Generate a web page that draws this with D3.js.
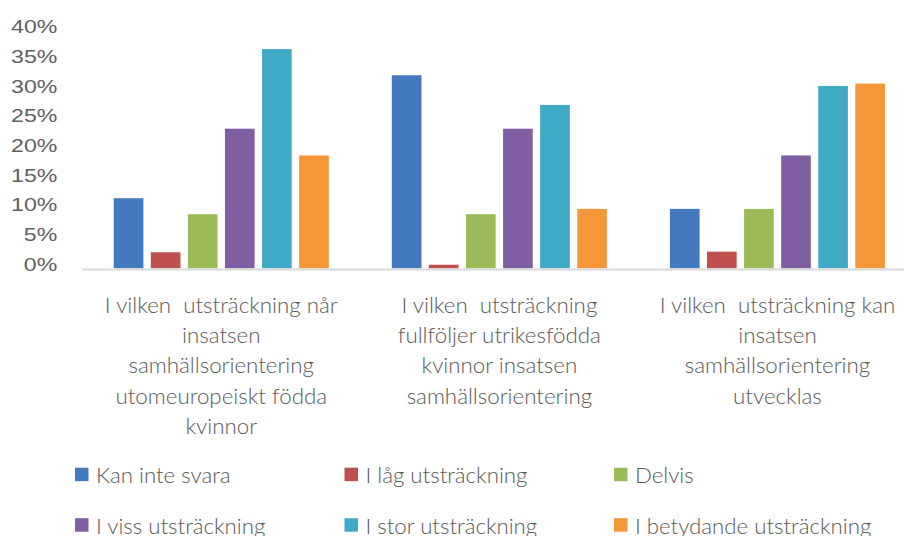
<!DOCTYPE html>
<html><head><meta charset="utf-8">
<script src="https://cdn.jsdelivr.net/npm/d3@7"></script>
<style>
body{margin:0;background:#fff;}
svg text{white-space:pre;}
</style></head>
<body><svg id="c" width="904" height="536"></svg>
<script>
const categories = [
  ["I vilken  utsträckning når","insatsen","samhällsorientering","utomeuropeiskt födda","kvinnor"],
  ["I vilken  utsträckning","fullföljer utrikesfödda","kvinnor insatsen","samhällsorientering"],
  ["I vilken  utsträckning kan","insatsen","samhällsorientering","utvecklas"]
];
const seriesNames = ["Kan inte svara","I låg utsträckning","Delvis","I viss utsträckning","I stor utsträckning","I betydande utsträckning"];
const seriesColors = ["#4379BD","#C0504D","#9BBB59","#7F5FA1","#3FAAC6","#F59638"];
const kanInteSvara   = [11.8, 32.5, 10.0];
const lagUtstr       = [2.7, 0.6, 2.8];
const delvis         = [9.1, 9.1, 10.0];
const vissUtstr      = [23.5, 23.5, 19.0];
const storUtstr      = [36.9, 27.5, 30.7];
const betydandeUtstr = [19.0, 10.0, 31.1];
const seriesValues = [kanInteSvara, lagUtstr, delvis, vissUtstr, storUtstr, betydandeUtstr];
const yTicks = [0,5,10,15,20,25,30,35,40];

const svg = d3.select("#c");
const gray = "#595959";
const x0 = d3.scaleBand().domain(d3.range(categories.length)).range([82.2, 916.5]).paddingInner(0).paddingOuter(0);
const x1 = d3.scaleBand().domain(d3.range(seriesNames.length)).range([0, x0.bandwidth()]).paddingInner(0.2).paddingOuter(0.85);
const y = d3.scaleLinear().domain([0, 40]).range([268.3, 268.3 - 40*5.94]);

// bars
seriesValues.forEach((vals, si) => {
  svg.append("g").selectAll("rect").data(vals).join("rect")
    .attr("x", (d,i) => x0(i) + x1(si))
    .attr("width", x1.bandwidth())
    .attr("y", d => y(d))
    .attr("height", d => y(0) - y(d))
    .attr("fill", seriesColors[si]);
});

// axis line
svg.append("line").attr("x1", 82).attr("x2", 904).attr("y1", y(0)+1.2).attr("y2", y(0)+1.2)
  .attr("stroke", "#d9d9d9").attr("stroke-width", 2);

function scaleFor(font, size, weight, sample, target){
  const t = svg.append("text").style("font-family", font).style("font-size", size+"px").style("font-weight", weight).text(sample);
  const w = t.node().getComputedTextLength();
  t.remove();
  return target / w;
}

// y tick labels
const yFont = "'Liberation Sans', Arial, sans-serif", ySize = 18;
const ys = scaleFor(yFont, ySize, 400, "40%", 46.3);
svg.append("g").selectAll("text").data(yTicks).join("text")
  .attr("transform", d => `translate(57.3,${y(d)+2.4}) scale(${ys},1)`)
  .attr("text-anchor", "end").style("font-family", yFont).style("font-size", ySize+"px")
  .attr("fill", "#606060").text(d => d + "%");

// category labels
const cFont = "Lato, 'Open Sans', sans-serif", cSize = 21, cW = 300;
const cs = scaleFor(cFont, cSize, cW, "I vilken  utsträckning når", 233);
categories.forEach((lines, ci) => {
  svg.append("g").selectAll("text").data(lines).join("text")
    .attr("transform", (d,li) => `translate(${x0(ci) + x0.bandwidth()/2},${313 + li*30.2}) scale(${cs},1)`)
    .attr("text-anchor", "middle").style("font-family", cFont).style("font-size", cSize+"px").style("font-weight", cW)
    .attr("fill", gray).text(d => d);
});

// legend
const lFont = cFont, lSize = 21;
const ls = scaleFor(lFont, lSize, cW, "Kan inte svara", 134.7);
const legX = d3.scalePoint().domain([0,1,2]).range([75, 614]);
const legY = d3.scalePoint().domain([0,1]).range([467.7, 518.2]);
const leg = svg.append("g").selectAll("g").data(seriesNames).join("g")
  .attr("transform", (d,i) => `translate(${legX(i%3)},${legY(Math.floor(i/3))})`);
leg.append("rect").attr("width", 13.5).attr("height", 13.5).attr("fill", (d,i) => seriesColors[i]);
leg.append("text").attr("transform", `translate(21,15.6) scale(${ls},1)`)
  .style("font-family", lFont).style("font-size", lSize+"px").style("font-weight", cW).attr("fill", gray).text(d => d);
</script></body></html>
